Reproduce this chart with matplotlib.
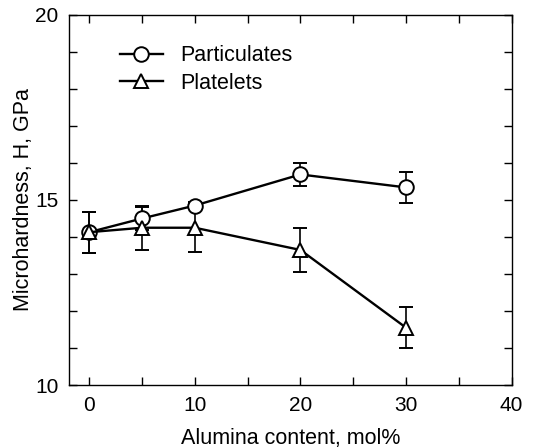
import matplotlib
matplotlib.use("Agg")
import matplotlib.pyplot as plt
from matplotlib.ticker import MultipleLocator
from matplotlib.lines import Line2D

plt.rcParams['font.family'] = ['Liberation Sans', 'DejaVu Sans']

x = [0, 5, 10, 20, 30]
part = [14.13, 14.5, 14.85, 15.69, 15.34]
part_err = [0.55, 0.3, 0.1, 0.3, 0.41]
plat = [14.13, 14.25, 14.25, 13.65, 11.55]
plat_err = [0.55, 0.6, 0.65, 0.6, 0.55]

fig = plt.figure(figsize=(5.34, 4.48), dpi=100)
ax = fig.add_axes([0.130, 0.1406, 0.828, 0.826])

kw = dict(color='black', lw=1.7, ms=10.5, mfc='white', mec='black', mew=1.4,
          capsize=5, elinewidth=1.2, capthick=1.2)
ax.errorbar(x, part, yerr=part_err, marker='o', **kw)
ax.errorbar(x, plat, yerr=plat_err, marker='^', **kw)

ax.set_xlim(-1.875, 40)
ax.set_ylim(10, 20)
ax.xaxis.set_major_locator(MultipleLocator(10))
ax.xaxis.set_minor_locator(MultipleLocator(5))
ax.yaxis.set_major_locator(MultipleLocator(5))
ax.yaxis.set_minor_locator(MultipleLocator(1))
ax.tick_params(which='both', direction='in', top=True, right=True, labelsize=15, width=1)
ax.tick_params(which='major', length=6, pad=8)
ax.tick_params(which='minor', length=6)
for s in ax.spines.values():
    s.set_linewidth(1)
ax.set_xlabel('Alumina content, mol%', fontsize=15.5, labelpad=9)
ax.set_ylabel('Microhardness, H, GPa', fontsize=15.5, labelpad=1)

handles = [Line2D([], [], color='black', lw=1.7, marker='o', ms=10.5, mfc='white', mew=1.4),
           Line2D([], [], color='black', lw=1.7, marker='^', ms=10.5, mfc='white', mew=1.4)]
ax.legend(handles, ['Particulates', 'Platelets'], loc='upper left', frameon=False,
          fontsize=15.5, handlelength=2.0, bbox_to_anchor=(0.07, 0.97),
          labelspacing=0.3, handletextpad=0.8)

fig.savefig('out.png', dpi=100)
